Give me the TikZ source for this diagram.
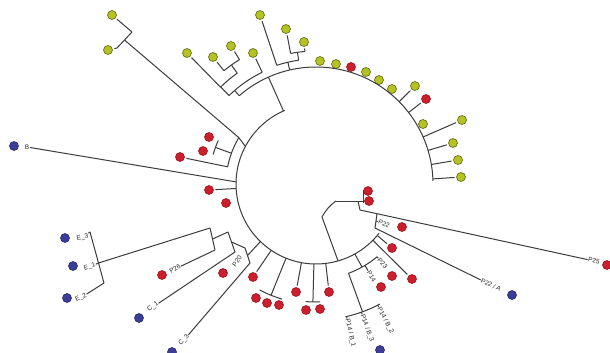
\documentclass[tikz,border=0pt]{standalone}
\usepackage{fontspec}
\setmainfont{Liberation Sans}
\usetikzlibrary{calc}
\definecolor{rdc}{HTML}{CC1F2D}
\definecolor{rde}{HTML}{9E1522}
\definecolor{ylc}{HTML}{B4C224}
\definecolor{yle}{HTML}{5E6A10}
\definecolor{blc}{HTML}{3A3E98}
\definecolor{lnc}{HTML}{3C3C3C}
\begin{document}
\begin{tikzpicture}[x=1pt,y=-1pt,
 br/.style={draw=lnc,line width=1pt},
 dot/.style={circle,inner sep=0pt,minimum size=9pt,outer sep=2pt,line width=0.6pt},
 rd/.style={dot,fill=rdc,draw=rde},
 yd/.style={dot,fill=ylc,draw=yle},
 bdot/.style={dot,fill=blc,draw=blc!70!black},
 lb/.style={font=\fontsize{6.5}{7}\selectfont,inner sep=0.6pt,text=black!85}]
\path[use as bounding box,fill=white] (0,0) rectangle (610,353);
\coordinate (C) at (316,184);
% ---------- leaves ----------
\node[yd] (y1) at (112,15) {};
\node[yd] (y2) at (108,50) {};
\node[yd] (y3) at (187,53) {};
\node[yd] (y4) at (213,57) {};
\node[yd] (y5) at (231,46) {};
\node[yd] (y6) at (253,53) {};
\node[yd] (y7) at (260,15) {};
\node[yd] (y8) at (286,29) {};
\node[yd] (y9) at (304,42) {};
\node[yd] (y10) at (320,61) {};
\node[yd] (y11) at (336,64) {};
\node[rd] (r12) at (351,67) {};
\node[yd] (y13) at (366,72) {};
\node[yd] (y14) at (379,80) {};
\node[yd] (y15) at (392,89) {};
\node[yd] (y16) at (415,86) {};
\node[rd] (r17) at (426,99) {};
\node[yd] (y18) at (423,124) {};
\node[yd] (y19) at (462,120) {};
\node[yd] (y20) at (453,143) {};
\node[yd] (y21) at (458,160) {};
\node[yd] (y22) at (461,177) {};
\node[rd] (l1) at (209,137) {};
\node[rd] (l2) at (203,151) {};
\node[rd] (l3) at (180,157) {};
\node[rd] (l4) at (209,190) {};
\node[rd] (l5) at (226,203) {};
\node[rd] (b1) at (253,277) {};
\node[rd] (t1) at (256,298) {};
\node[rd] (t2) at (267,303) {};
\node[rd] (t3) at (279,305) {};
\node[rd] (s1) at (296,292) {};
\node[rd] (q1) at (306,310) {};
\node[rd] (q2) at (320,309) {};
\node[rd] (s2) at (329,292) {};
\node[rd] (ra) at (392,248) {};
\node[rd] (rb) at (412,279) {};
\node[rd] (p23d) at (392,276) {};
\node[rd] (p14d) at (381,287) {};
\node[rd] (rp1) at (368,191) {};
\node[rd] (rp2) at (369,201) {};
\node[rd] (p22d) at (402,227) {};
\node[rd] (p25d) at (607,265) {};
\node[rd] (p26d) at (162,275) {};
\node[rd] (p20d) at (223,273) {};
\node[bdot] (bd) at (14,146) {};
\node[bdot] (e3d) at (65,238) {};
\node[bdot] (e1d) at (73,266) {};
\node[bdot] (e2d) at (67,298) {};
\node[bdot] (c1d) at (139,318) {};
\node[bdot] (c3d) at (172,352) {};
\node[bdot] (p22ad) at (512,295) {};
\node[bdot] (bgd) at (380,350) {};
% ---------- labels ----------
\node[lb] (bl) at (27,147) {B};
\node[lb,anchor=east,rotate=12] (e3l) at (89,236) {E\_3};
\node[lb,anchor=east,rotate=18] (e1l) at (96,265) {E\_1};
\node[lb,anchor=east,rotate=24] (e2l) at (87,295) {E\_2};
\node[lb,rotate=31] (p26l) at (175,269) {P26};
\node[lb,rotate=37] (c1l) at (153,307) {C\_1};
\node[lb,rotate=48] (c3l) at (184,340) {C\_3};
\node[lb,rotate=55] (p20l) at (237,261) {P20};
\node[lb,anchor=west,rotate=-50] (p23l) at ($(C)+(50:97)$) {P23};
\node[lb,anchor=west,rotate=-59] (p14l) at ($(C)+(59:101)$) {P14};
\node[lb,anchor=west,rotate=-77] (bg1l) at ($(C)+(77:138)$) {P14 / B\_1};
\node[lb,anchor=west,rotate=-70.5] (bg3l) at ($(C)+(70.5:138)$) {P14 / B\_3};
\node[lb,anchor=west,rotate=-63] (bg2l) at ($(C)+(63:138)$) {P14 / B\_2};
\node[lb,anchor=west,rotate=-24] (p22l) at (378,221) {P22};
\node[lb,rotate=-26] (p22al) at (491,285) {P22 / A};
\node[lb,rotate=-12] (p25l) at (594,261) {P25};
% ---------- inner circle ----------
\draw[br] (C) ++(38:80) arc[start angle=38,end angle=247,radius=80];
% ---------- yellow clade ----------
\draw[br] ($(C)+(246:80)$) -- ($(C)+(246:117)$);
\draw[br] (C) ++(229:117) arc[start angle=229,end angle=358.5,radius=117];
\draw[br] ($(C)+(315.3:117)$) -- (y16);
\draw[br] ($(C)+(322.3:117)$) -- (r17);
\draw[br] ($(C)+(336.3:117)$) -- (y19);
\draw[br] ($(C)+(343.3:117)$) -- (y20);
\draw[br] ($(C)+(350.4:117)$) -- (y21);
\draw[br] ($(C)+(357.5:117)$) -- (y22);
% Y7-Y9
\draw[br] ($(C)+(257:117)$) -- ($(C)+(257:125)$);
\draw[br] (C) ++(251.7:125) arc[start angle=251.7,end angle=262,radius=125];
\draw[br] ($(C)+(251.7:125)$) -- (y7);
\draw[br] ($(C)+(262:125)$) -- ($(C)+(262:133)$);
\draw[br] (C) ++(259:133) arc[start angle=259,end angle=265.2,radius=133];
\draw[br] ($(C)+(259:133)$) -- (y8);
\draw[br] ($(C)+(265.2:133)$) -- (y9);
% Y3-Y6
\draw[br] ($(C)+(229:117)$) -- ($(C)+(229:124)$);
\draw[br] (C) ++(225.5:124) arc[start angle=225.5,end angle=244.3,radius=124];
\draw[br] ($(C)+(244.3:124)$) -- (y6);
\draw[br] ($(C)+(225.5:124)$) -- ($(C)+(225.5:136)$);
\draw[br] (C) ++(225.4:136) arc[start angle=225.4,end angle=234.6,radius=136];
\draw[br] ($(C)+(225.4:136)$) -- (y3);
\draw[br] ($(C)+(234.6:136)$) -- ($(C)+(234.6:146)$);
\draw[br] (C) ++(230.9:146) arc[start angle=230.9,end angle=238.4,radius=146];
\draw[br] ($(C)+(230.9:146)$) -- (y4);
\draw[br] ($(C)+(238.4:146)$) -- (y5);
% ---------- Y1-Y2 and left red cluster ----------
\coordinate (na) at ($(C)+(211:90)$);
\coordinate (nac) at ($(C)+(208:80)$);
\coordinate (yb1) at (132,32);
\coordinate (yb2) at (117,48);
\coordinate (ybm) at (124.5,40);
\draw[br] (nac) -- (na);
\draw[br] (na) -- (ybm);
\draw[br] (yb1) -- (yb2);
\draw[br] (yb1) -- (y1);
\draw[br] (yb2) -- (y2);
\draw[br] (C) ++(211:90) arc[start angle=211,end angle=191,radius=90];
\draw[br] ($(C)+(191:90)$) -- (l3);
\draw[br] ($(C)+(200:90)$) -- ($(C)+(200:107)$);
\draw[br] (C) ++(196:107) arc[start angle=196,end angle=204,radius=107];
% ---------- B and L4 ----------
\draw[br] ($(C)+(181.5:80)$) -- (bl);
\draw[br] ($(C)+(176.8:80)$) -- (l4);
% ---------- E / P26 / C / P20 group ----------
\coordinate (eb1) at (90,232);
\coordinate (eb2) at (104,283);
\coordinate (ebm) at (98.5,263);
\coordinate (n1a) at (210,228);
\coordinate (n1b) at (215,250);
\coordinate (n1m) at (212.5,239);
\coordinate (n2a) at (228,232);
\coordinate (n2b) at (235,252);
\coordinate (n2m) at (231.5,242);
\coordinate (n3a) at (245,248);
\coordinate (n3b) at (250,263);
\coordinate (n3m) at (247.5,255.5);
\coordinate (n3c) at ($(C)+(134:80)$);
\draw[br] (eb1) -- (eb2);
\draw[br] (eb1) -- (e3l);
\draw[br] (ebm) -- (e1l);
\draw[br] (eb2) -- (e2l);
\draw[br] (ebm) -- (n1a);
\draw[br] (n1a) -- (n1b);
\draw[br] (n1b) -- (p26l);
\draw[br] (n1m) -- (n2a);
\draw[br] (n2a) -- (n2b);
\draw[br] (n2b) -- (c1l);
\draw[br] (n2m) -- (n3a);
\draw[br] (n3a) -- (n3b);
\draw[br] (n3b) -- (c3l);
\draw[br] (n3m) -- (n3c);
% ---------- bottom red leaves ----------
\draw[br] ($(C)+(124:80)$) -- (b1);
\draw[br] ($(C)+(112:80)$) -- ($(C)+(112:120)$);
\draw[br] (C) ++(106.5:120) arc[start angle=106.5,end angle=118,radius=120];
\draw[br] ($(C)+(100.5:80)$) -- (s1);
\draw[br] ($(C)+(91.5:80)$) -- ($(C)+(91.5:118)$);
\draw[br] (C) ++(88:118) arc[start angle=88,end angle=95,radius=118];
\draw[br] ($(C)+(83:80)$) -- (s2);
% ---------- P23 / P14 / B group ----------
\draw[br] ($(C)+(61:80)$) -- ($(C)+(61:95)$);
\draw[br] (C) ++(50:95) arc[start angle=50,end angle=70,radius=95];
\draw[br] ($(C)+(50:95)$) -- (p23l);
\draw[br] ($(C)+(59:95)$) -- (p14l);
\draw[br] ($(C)+(70:95)$) -- ($(C)+(70:136)$);
\draw[br] (C) ++(62:136) arc[start angle=62,end angle=77.5,radius=136];
\draw[br] ($(C)+(77:136)$) -- (bg1l);
\draw[br] ($(C)+(70.5:136)$) -- (bg3l);
\draw[br] ($(C)+(63:136)$) -- (bg2l);
\draw[br] ($(C)+(40:80)$) -- (ra);
\draw[br] ($(C)+(44.7:80)$) -- (rb);
% ---------- root and right clade ----------
\coordinate (rc) at ($(C)+(74:80)$);
\coordinate (r0) at (322,217);
\coordinate (rk1) at (336,201);
\coordinate (rk2) at (358,201);
\coordinate (rk3) at (360,210);
\coordinate (rpa) at (363,190);
\coordinate (rpb) at (363,203);
\coordinate (rpm) at (363,201);
\coordinate (rk4) at (377,213.7);
\coordinate (rk5) at (375,228);
\coordinate (rk45) at (376,221);
\draw[br] (rc) -- (r0);
\draw[br] (r0) to[bend left=12] (rk1);
\draw[br] (rk1) -- (rk2);
\draw[br] (rk2) -- (rk3);
\draw[br] (rk2) -- (rpm);
\draw[br] (rpa) -- (rpb);
\draw[br] (rk3) -- (p25l);
\draw[br] (rk4) -- (rk5);
\draw[br] (rk45) -- (p22l);
\draw[br] (rk5) -- (p22al);
\end{tikzpicture}
\end{document}
